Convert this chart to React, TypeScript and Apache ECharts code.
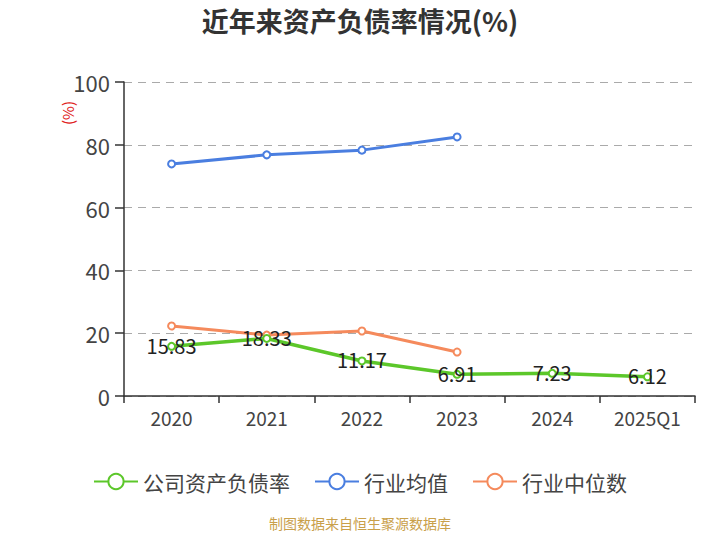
import React, { useEffect, useRef } from "react";
import * as echarts from "echarts";

const categories = ["2020", "2021", "2022", "2023", "2024", "2025Q1"];
const companyRatio = [15.83, 18.33, 11.17, 6.91, 7.23, 6.12];
const industryMean = [73.9, 76.8, 78.3, 82.5, null, null];
const industryMedian = [22.3, 19.4, 20.7, 14.0, null, null];
const yTicks = { min: 0, max: 100, interval: 20 };

export default function App() {
  const ref = useRef<HTMLDivElement>(null);
  useEffect(() => {
    const chart = echarts.init(ref.current!, null, { renderer: "svg" });
    const font = "'Microsoft YaHei', 'Noto Sans CJK SC', 'Noto Sans', sans-serif";
    chart.setOption({
      animation: false,
      textStyle: { fontFamily: font },
      title: {
        text: "近年来资产负债率情况(%)",
        left: "center",
        top: 2,
        textStyle: { fontSize: 27, fontWeight: "bold", color: "#333", fontFamily: font },
      },
      graphic: [
        {
          type: "text",
          x: 60,
          y: 125,
          rotation: Math.PI / 2,
          style: { text: "(%)", fill: "#e02020", fontSize: 15, fontFamily: font },
        },
        {
          type: "text",
          left: "center",
          top: 516,
          style: { text: "制图数据来自恒生聚源数据库", fill: "#c9a04a", fontSize: 14, fontFamily: font },
        },
      ],
      legend: {
        top: 466,
        left: "center",
        itemWidth: 44,
        itemHeight: 19,
        itemGap: 24,
        textStyle: { fontSize: 21, color: "#444", fontFamily: font },
        data: ["公司资产负债率", "行业均值", "行业中位数"],
      },
      grid: { left: 124, right: 25, top: 82, bottom: 144 },
      xAxis: {
        type: "category",
        data: categories,
        boundaryGap: true,
        axisLine: { lineStyle: { color: "#333", width: 1.5 } },
        axisTick: { show: true, length: 7, lineStyle: { color: "#333", width: 1.5 } },
        axisLabel: { fontSize: 19, color: "#444", margin: 12 },
      },
      yAxis: {
        type: "value",
        min: yTicks.min,
        max: yTicks.max,
        interval: yTicks.interval,
        axisLine: { show: true, lineStyle: { color: "#333", width: 1.5 } },
        axisTick: { show: true, length: 9, lineStyle: { color: "#333", width: 1.5 } },
        axisLabel: { fontSize: 22, color: "#444", margin: 14 },
        splitLine: { lineStyle: { type: [8, 6], color: "#aaa" } },
      },
      series: [
        {
          name: "公司资产负债率",
          type: "line",
          data: companyRatio,
          symbol: "emptyCircle",
          symbolSize: 7,
          itemStyle: { color: "#5cc72a" },
          lineStyle: { width: 3.5, color: "#5cc72a" },
          label: {
            show: true,
            position: "inside",
            offset: [0, -1],
            fontSize: 20,
            color: "#222",
          },
          z: 3,
        },
        {
          name: "行业均值",
          type: "line",
          data: industryMean,
          symbol: "emptyCircle",
          symbolSize: 7,
          itemStyle: { color: "#4a7ee0" },
          lineStyle: { width: 3, color: "#4a7ee0" },
          z: 2,
        },
        {
          name: "行业中位数",
          type: "line",
          data: industryMedian,
          symbol: "emptyCircle",
          symbolSize: 7,
          itemStyle: { color: "#f58a5c" },
          lineStyle: { width: 3, color: "#f58a5c" },
          z: 2,
        },
      ],
    });
    return () => chart.dispose();
  }, []);
  return <div ref={ref} style={{ width: 720, height: 540, margin: -8 }} />;
}
